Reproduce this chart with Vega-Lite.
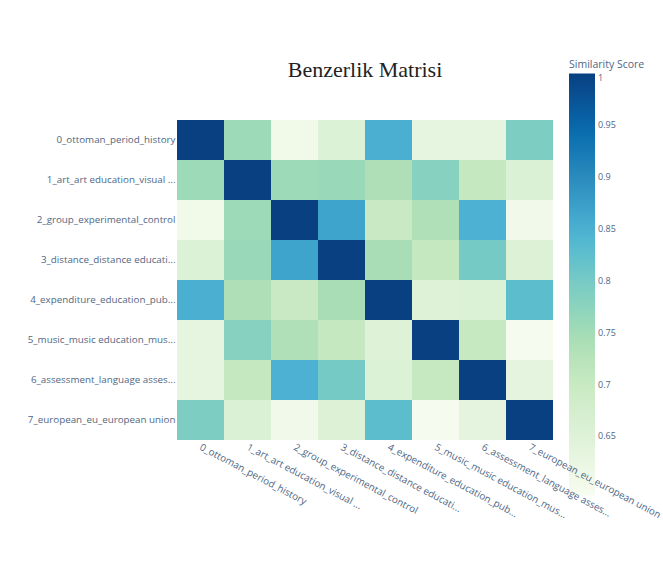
{
  "$schema": "https://vega.github.io/schema/vega-lite/v6.json",
  "width": 376,
  "height": 320,
  "autosize": {"type": "none"},
  "padding": {"left": 177, "top": 120, "right": 110, "bottom": 129},
  "background": "white",
  "title": {
    "text": "Benzerlik Matrisi",
    "font": "Liberation Serif",
    "fontSize": 22,
    "fontWeight": "normal",
    "color": "#222222",
    "anchor": "middle",
    "frame": "group",
    "offset": -22
  },
  "datasets": {
    "names": [
      {"i": 0, "name": "0_ottoman_period_history"},
      {"i": 1, "name": "1_art_art education_visual ..."},
      {"i": 2, "name": "2_group_experimental_control"},
      {"i": 3, "name": "3_distance_distance educati..."},
      {"i": 4, "name": "4_expenditure_education_pub..."},
      {"i": 5, "name": "5_music_music education_mus..."},
      {"i": 6, "name": "6_assessment_language asses..."},
      {"i": 7, "name": "7_european_eu_european union"}
    ]
  },
  "data": {
    "values": [
      {"r": 0, "c": 0, "v": 1.0}, {"r": 0, "c": 1, "v": 0.756}, {"r": 0, "c": 2, "v": 0.608}, {"r": 0, "c": 3, "v": 0.653}, {"r": 0, "c": 4, "v": 0.853}, {"r": 0, "c": 5, "v": 0.632}, {"r": 0, "c": 6, "v": 0.634}, {"r": 0, "c": 7, "v": 0.794},
      {"r": 1, "c": 0, "v": 0.756}, {"r": 1, "c": 1, "v": 1.0}, {"r": 1, "c": 2, "v": 0.757}, {"r": 1, "c": 3, "v": 0.76}, {"r": 1, "c": 4, "v": 0.737}, {"r": 1, "c": 5, "v": 0.782}, {"r": 1, "c": 6, "v": 0.705}, {"r": 1, "c": 7, "v": 0.657},
      {"r": 2, "c": 0, "v": 0.608}, {"r": 2, "c": 1, "v": 0.757}, {"r": 2, "c": 2, "v": 1.0}, {"r": 2, "c": 3, "v": 0.867}, {"r": 2, "c": 4, "v": 0.701}, {"r": 2, "c": 5, "v": 0.735}, {"r": 2, "c": 6, "v": 0.85}, {"r": 2, "c": 7, "v": 0.607},
      {"r": 3, "c": 0, "v": 0.653}, {"r": 3, "c": 1, "v": 0.76}, {"r": 3, "c": 2, "v": 0.867}, {"r": 3, "c": 3, "v": 1.0}, {"r": 3, "c": 4, "v": 0.745}, {"r": 3, "c": 5, "v": 0.705}, {"r": 3, "c": 6, "v": 0.802}, {"r": 3, "c": 7, "v": 0.655},
      {"r": 4, "c": 0, "v": 0.853}, {"r": 4, "c": 1, "v": 0.737}, {"r": 4, "c": 2, "v": 0.701}, {"r": 4, "c": 3, "v": 0.745}, {"r": 4, "c": 4, "v": 1.0}, {"r": 4, "c": 5, "v": 0.65}, {"r": 4, "c": 6, "v": 0.653}, {"r": 4, "c": 7, "v": 0.826},
      {"r": 5, "c": 0, "v": 0.632}, {"r": 5, "c": 1, "v": 0.782}, {"r": 5, "c": 2, "v": 0.735}, {"r": 5, "c": 3, "v": 0.705}, {"r": 5, "c": 4, "v": 0.65}, {"r": 5, "c": 5, "v": 1.0}, {"r": 5, "c": 6, "v": 0.703}, {"r": 5, "c": 7, "v": 0.598},
      {"r": 6, "c": 0, "v": 0.634}, {"r": 6, "c": 1, "v": 0.705}, {"r": 6, "c": 2, "v": 0.85}, {"r": 6, "c": 3, "v": 0.802}, {"r": 6, "c": 4, "v": 0.653}, {"r": 6, "c": 5, "v": 0.703}, {"r": 6, "c": 6, "v": 1.0}, {"r": 6, "c": 7, "v": 0.635},
      {"r": 7, "c": 0, "v": 0.794}, {"r": 7, "c": 1, "v": 0.657}, {"r": 7, "c": 2, "v": 0.607}, {"r": 7, "c": 3, "v": 0.655}, {"r": 7, "c": 4, "v": 0.826}, {"r": 7, "c": 5, "v": 0.598}, {"r": 7, "c": 6, "v": 0.635}, {"r": 7, "c": 7, "v": 1.0}
    ]
  },
  "transform": [
    {"lookup": "r", "from": {"data": {"name": "names"}, "key": "i", "fields": ["name"]}, "as": ["rowName"]},
    {"lookup": "c", "from": {"data": {"name": "names"}, "key": "i", "fields": ["name"]}, "as": ["colName"]}
  ],
  "mark": {"type": "rect"},
  "encoding": {
    "x": {
      "field": "colName",
      "type": "nominal",
      "sort": {"field": "c"},
      "scale": {"paddingInner": 0, "paddingOuter": 0},
      "axis": {
        "title": null,
        "orient": "bottom",
        "labelAngle": 28,
        "labelAlign": "left",
        "labelBaseline": "middle",
        "labelPadding": 6,
        "labelFont": "Open Sans",
        "labelFontSize": 9.8,
        "labelColor": "#506784",
        "labelLimit": 300,
        "ticks": false,
        "domain": false,
        "grid": false
      }
    },
    "y": {
      "field": "rowName",
      "type": "nominal",
      "sort": {"field": "r"},
      "scale": {"paddingInner": 0, "paddingOuter": 0},
      "axis": {
        "title": null,
        "labelPadding": 2,
        "labelFont": "Open Sans",
        "labelFontSize": 9.8,
        "labelColor": "#506784",
        "labelLimit": 300,
        "ticks": false,
        "domain": false,
        "grid": false
      }
    },
    "color": {
      "field": "v",
      "type": "quantitative",
      "scale": {
        "domain": [0.593, 0.643875, 0.69475, 0.745625, 0.7965, 0.847375, 0.89825, 0.949125, 1.0],
        "range": ["rgb(247,252,240)", "rgb(224,243,219)", "rgb(204,235,197)", "rgb(168,221,181)", "rgb(123,204,196)", "rgb(78,179,211)", "rgb(43,140,190)", "rgb(8,104,172)", "rgb(8,64,129)"]
      },
      "legend": {
        "title": "Similarity Score",
        "orient": "none",
        "legendX": 392,
        "legendY": -60,
        "direction": "vertical",
        "gradientLength": 422,
        "gradientThickness": 26,
        "gradientStrokeWidth": 0,
        "values": [0.65, 0.7, 0.75, 0.8, 0.85, 0.9, 0.95, 1],
        "format": ".2~f",
        "titleFont": "Open Sans",
        "titleFontSize": 10.5,
        "titleFontWeight": "normal",
        "titleColor": "#506784",
        "titlePadding": 3,
        "labelFont": "Open Sans",
        "labelFontSize": 9,
        "labelColor": "#506784",
        "labelOffset": 3,
        "labelOverlap": false
      }
    }
  },
  "config": {"view": {"stroke": null}}
}
